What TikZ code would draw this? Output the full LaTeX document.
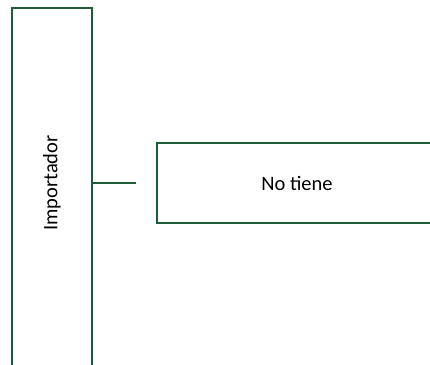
\documentclass[tikz,border=0pt]{standalone}
\usepackage{fontspec}
\setmainfont{Carlito}
\usepackage{xcolor}
\usetikzlibrary{positioning,calc}
\definecolor{bordegreen}{RGB}{30,92,56}

\begin{document}
\begin{tikzpicture}[x=1pt, y=1pt, font=\fontsize{20.5}{24}\selectfont,
        caja/.style={draw=bordegreen, line width=1.6pt, rectangle}]
        \useasboundingbox (0,0) rectangle (430,-364);
        \clip (0,0) rectangle (430,-364);
        \node [caja, minimum width=80pt, minimum height=370pt] (Imp) at (52,-193) {};
        \node [rotate=90] (ImpText) at (52,-183) {Importador};
        \node [caja, minimum width=280pt, minimum height=80pt] (NoTiene) at (297,-183) {No tiene};
        \coordinate [left=20pt of NoTiene.west] (Fin);
        \draw [draw=bordegreen, line width=1.6pt] (Imp.east |- NoTiene.west) -- (Fin);
    \end{tikzpicture}
\end{document}
